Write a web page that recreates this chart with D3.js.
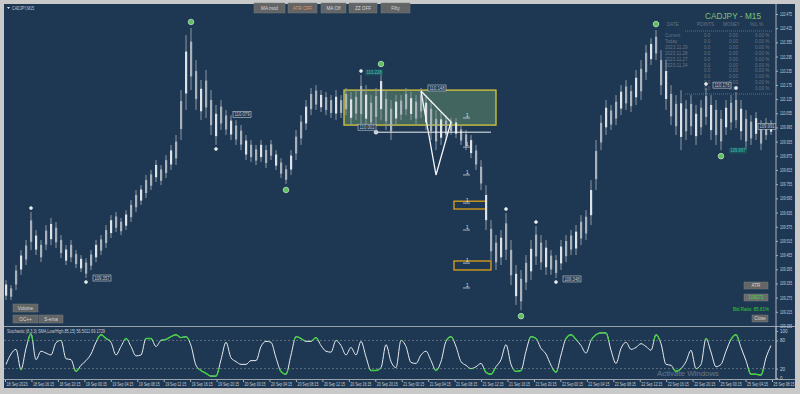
<!DOCTYPE html>
<html>
<head>
<meta charset="utf-8">
<script src="https://cdn.jsdelivr.net/npm/d3@7"></script>
<style>
html, body { margin: 0; padding: 0; background: #c9c9c9; }
svg { display: block; font-family: "Liberation Sans", Arial, sans-serif; }
</style>
</head>
<body>
<svg id="chart" width="800" height="394"></svg>
<script>
// bar highs / lows (CADJPY M15, one bar every ~3 real bars)
var highs = [
    109.349,109.328,109.413,109.476,109.519,109.637,109.561,109.519,109.582,109.612,
    109.595,109.540,109.497,109.519,109.476,109.455,109.442,109.476,109.519,109.540,
    109.582,109.624,109.637,109.612,109.645,109.688,109.730,109.751,109.794,109.815,
    109.857,109.836,109.878,109.921,109.963,110.153,110.386,110.416,110.280,110.196,
    110.238,110.153,110.090,110.111,110.069,110.047,110.026,110.005,109.963,109.942,
    109.921,109.942,109.921,109.942,109.899,109.865,109.836,109.899,109.984,110.047,
    110.111,110.162,110.174,110.153,110.145,110.132,110.153,110.132,110.162,110.145,
    110.153,110.217,110.174,110.132,110.162,110.238,110.153,110.111,110.132,110.132,
    110.162,110.145,110.132,110.162,110.132,110.111,110.069,110.060,110.047,110.035,
    110.035,110.005,109.984,109.963,109.921,109.857,109.751,109.603,109.540,109.561,
    109.633,109.519,109.413,109.392,109.455,109.519,109.578,109.540,109.519,109.476,
    109.455,109.519,109.540,109.561,109.582,109.624,109.645,109.772,109.942,110.047,
    110.111,110.090,110.132,110.174,110.196,110.174,110.238,110.280,110.344,110.373,
    110.407,110.322,110.280,110.174,110.132,110.153,110.111,110.132,110.090,110.111,
    110.162,110.132,110.111,110.069,110.111,110.132,110.145,110.111,110.069,110.047,
    110.060,110.026,110.035,110.026
];
var lows = [
    109.265,109.265,109.307,109.371,109.413,109.476,109.455,109.425,109.476,109.497,
    109.485,109.442,109.413,109.425,109.400,109.383,109.358,109.392,109.425,109.455,
    109.485,109.527,109.552,109.540,109.561,109.595,109.637,109.667,109.696,109.730,
    109.764,109.751,109.781,109.815,109.836,109.942,110.069,110.153,110.069,110.026,
    110.035,109.963,109.921,109.984,109.963,109.942,109.921,109.899,109.857,109.849,
    109.836,109.849,109.823,109.857,109.815,109.781,109.756,109.794,109.857,109.921,
    109.984,110.047,110.069,110.060,110.047,110.035,110.026,110.035,110.047,110.005,
    110.026,110.005,109.992,109.984,110.005,110.026,109.984,109.942,110.005,110.026,
    110.047,110.026,110.005,110.035,109.984,109.942,109.899,109.921,109.942,109.963,
    109.950,109.921,109.899,109.865,109.815,109.730,109.561,109.434,109.392,109.413,
    109.434,109.328,109.244,109.222,109.307,109.349,109.413,109.392,109.371,109.371,
    109.358,109.392,109.425,109.455,109.455,109.497,109.519,109.582,109.730,109.899,
    109.963,109.984,110.005,110.047,110.069,110.060,110.090,110.111,110.196,110.259,
    110.280,110.132,110.069,110.005,109.963,109.899,109.942,109.963,109.921,109.963,
    110.005,109.942,109.921,109.899,109.963,109.984,109.992,109.942,109.899,109.921,
    109.942,109.899,109.942,109.963
];
// stochastic main line, same bars
var stoch = [
    29,51,61,18,63,94,39,57,53,49, 75,80,41,39,14,27,37,51,76,92,
    84,76,49,67,84,67,47,49,84,84, 67,80,82,88,92,86,88,69,27,16,
    10,4,4,39,76,43,35,29,29,37, 37,67,78,76,43,14,8,49,88,84,
    78,78,86,69,57,55,80,69,49,65, 49,78,45,16,16,22,71,35,22,80,
    67,33,31,49,57,37,16,35,78,88, 67,35,27,20,24,31,12,8,24,39,
    71,29,14,16,57,88,84,63,51,27, 12,49,84,92,82,69,53,80,92,96,
    96,59,31,63,76,61,65,73,67,59, 92,73,29,27,14,20,35,59,20,29,
    84,55,24,29,57,82,92,65,37,8, 8,6,43,69
];

var priceTicks = [110.475,110.415,110.355,110.295,110.235,110.175,110.115,110.055,109.995,109.935,
    109.875,109.815,109.755,109.695,109.635,109.575,109.515,109.455,109.395,109.335,109.275,109.215,109.155];
var stochTicks = [100, 80, 20, 0];
var timeLabels = ["18 Sep 2023","18 Sep 16:15","18 Sep 20:15","19 Sep 00:15","19 Sep 04:15","19 Sep 08:15",
    "19 Sep 12:15","19 Sep 16:15","19 Sep 20:15","20 Sep 00:15","20 Sep 04:15","20 Sep 08:15","20 Sep 12:15",
    "20 Sep 16:15","20 Sep 20:15","21 Sep 00:15","21 Sep 04:15","21 Sep 08:15","21 Sep 12:15","21 Sep 16:15",
    "21 Sep 20:15","22 Sep 00:15","22 Sep 04:15","22 Sep 08:15","22 Sep 12:15","22 Sep 16:15","22 Sep 20:15",
    "25 Sep 00:15","25 Sep 04:15","25 Sep 08:15"];

// zigzag swing points (bar index)
var greenHighs = [37, 75, 130];
var greenLows = [56, 103, 143];
var whiteHighs = [5, 71, 100, 106, 140, 146];
var whiteLows = [16, 42, 110];

// price tags: bar index, price, text
var tagIdx = [17, 45, 70, 84, 111, 141, 150];
var tagPrice = [109.358, 110.050, 109.996, 110.162, 109.354, 110.174, 110.000];
var tagText = ["109.357", "110.079", "110.002", "110.148", "109.348", "110.176", "109.991"];

// zones: [from bar, to bar, top price, bottom price]
var zoneFrom = [68, 90, 90];
var zoneTo = [98, 96, 97];
var zoneTop = [110.153, 109.683, 109.430];
var zoneBottom = [110.005, 109.650, 109.392];

var triIdx = [83, 86, 89];
var triPrice = [110.149, 109.794, 110.018];
var levelPrice = [110.035, 109.912, 109.794, 109.675, 109.561, 109.421, 109.316];

var buttonsTop = ["MA mod", "ATR OFF", "MA Off", "ZZ OFF", "Fifty"];
var tableHead = ["DATE", "POINTS", "MONEY", "%/L %"];
var tableRows = ["Current", "Today", "2023.11.29", "2023.11.28", "2023.11.27", "2023.11.24", "...", "...", "...", "..."];

var bg = "#1e3752";
var svg = d3.select("#chart");

svg.append("rect").attr("x", 4).attr("y", 4).attr("width", 791).attr("height", 384).attr("fill", bg);

var x = d3.scaleLinear().domain([0, highs.length - 1]).range([6, 771]);
var y = d3.scaleLinear().domain([109.155, 110.475]).range([326, 14]);
var ys = d3.scaleLinear().domain([0, 100]).range([378, 331]);
var xt = d3.scalePoint().domain(timeLabels).range([5, 772]);

function tiny(sel, len) {
    sel.attr("font-size", 4.6).attr("fill", "#c9cdd2");
    if (len) sel.attr("textLength", len).attr("lengthAdjust", "spacingAndGlyphs");
    return sel;
}

var defs = svg.append("defs");
defs.append("clipPath").attr("id", "pane").append("rect")
    .attr("x", 4).attr("y", 4).attr("width", 772).attr("height", 322);
var main = svg.append("g").attr("clip-path", "url(#pane)");

// ---------- info table (behind bars) ----------
var tbl = main.append("g").attr("opacity", 0.75);
tbl.selectAll("text.h").data(tableHead).enter().append("text")
    .attr("x", function (d, i) { return [667, 697, 723, 750][i]; })
    .attr("y", 26)
    .text(function (d) { return d; })
    .call(tiny).attr("fill", "#7e8a96");
tableRows.forEach(function (r, i) {
    var ry = 37 + i * 5.9;
    var g = tbl.append("g");
    g.append("text").attr("x", 665).attr("y", ry).text(r).call(tiny).attr("fill", "#7e8a96");
    g.append("text").attr("x", 704).attr("y", ry).text("0.0").call(tiny).attr("fill", "#7e8a96");
    g.append("text").attr("x", 729).attr("y", ry).text("0.00").call(tiny).attr("fill", "#7e8a96");
    g.append("text").attr("x", 755).attr("y", ry).text("0.00  %").call(tiny).attr("fill", "#7e8a96");
});
[31, 94].forEach(function (ly) {
    tbl.append("line").attr("x1", 685).attr("x2", 772).attr("y1", ly).attr("y2", ly)
        .attr("stroke", "#8a96a2").attr("stroke-dasharray", "1,1").attr("stroke-width", 0.8);
});
main.append("text").attr("x", 705).attr("y", 19).text("CADJPY - M15")
    .attr("font-size", 8.5).attr("fill", "#7cc47a")
    .attr("textLength", 56).attr("lengthAdjust", "spacingAndGlyphs");

// ---------- zones ----------
main.selectAll("rect.zone").data(zoneFrom).enter().append("rect")
    .attr("x", function (d) { return x(d) - 2; })
    .attr("y", function (d, i) { return y(zoneTop[i]); })
    .attr("width", function (d, i) { return x(zoneTo[i]) - x(d) + 2; })
    .attr("height", function (d, i) { return y(zoneBottom[i]) - y(zoneTop[i]); })
    .attr("fill", function (d, i) { return i === 0 ? "rgba(110,160,110,0.45)" : "none"; })
    .attr("stroke", function (d, i) { return i === 0 ? "#d8c83a" : "#e0a21a"; })
    .attr("stroke-width", 1.3);

// ---------- bars ----------
var bars = main.append("g");
bars.selectAll("line").data(highs).enter().append("line")
    .attr("x1", function (d, i) { return x(i); })
    .attr("x2", function (d, i) { return x(i); })
    .attr("y1", function (d) { return y(d); })
    .attr("y2", function (d, i) { return y(lows[i]); })
    .attr("stroke", "#8e99a4").attr("stroke-width", 1);
bars.selectAll("rect").data(highs).enter().append("rect")
    .attr("x", function (d, i) { return x(i) - 1; })
    .attr("width", 2.2)
    .attr("y", function (d, i) { return y(d) + (y(lows[i]) - y(d)) * 0.22; })
    .attr("height", function (d, i) { return (y(lows[i]) - y(d)) * 0.56; })
    .attr("fill", function (d, i) { return i % 3 === 0 ? "#dde2e6" : "#a9b2bb"; });

// ---------- zigzag triangle & lines ----------
var tri = triIdx.map(function (d, i) { return [x(d), y(triPrice[i])]; });
main.append("path").attr("d", d3.line()(tri.concat([tri[0]])))
    .attr("fill", "none").attr("stroke", "#f4f6f8").attr("stroke-width", 1.3);
main.append("line").attr("x1", x(74)).attr("x2", x(97)).attr("y1", y(109.975)).attr("y2", y(109.975))
    .attr("stroke", "#f0f2f4").attr("stroke-width", 1);
main.append("circle").attr("cx", x(74)).attr("cy", y(109.975)).attr("r", 2)
    .attr("fill", "#c6ccd2").attr("stroke", "#fff").attr("stroke-width", 0.5);

main.selectAll("g.lvl").data(levelPrice).enter().append("g").each(function (d) {
    var g = d3.select(this);
    g.append("text").attr("x", x(92)).attr("y", y(d) - 1).text("1").call(tiny).attr("fill", "#e8ecf0");
    g.append("line").attr("x1", x(91.4)).attr("x2", x(92.8)).attr("y1", y(d)).attr("y2", y(d))
        .attr("stroke", "#e8ecf0").attr("stroke-width", 0.7);
});

// ---------- swing markers ----------
function dot(cx, cy, r, fill) {
    main.append("circle").attr("cx", cx).attr("cy", cy).attr("r", r)
        .attr("fill", fill).attr("stroke", "#e6f2e6").attr("stroke-width", 0.6);
}
whiteHighs.forEach(function (i) { dot(x(i), y(highs[i]) - 4, 1.5, "#e6eaee"); });
whiteLows.forEach(function (i) { dot(x(i), y(lows[i]) + 4, 1.5, "#e6eaee"); });
greenHighs.forEach(function (i) { dot(x(i), y(highs[i]) - 6, 2.8, "#5cc15c"); });
greenLows.forEach(function (i) { dot(x(i), y(lows[i]) + 6, 2.8, "#5cc15c"); });

// ---------- price tags ----------
tagIdx.forEach(function (d, i) {
    var tx = x(d) + 2, ty = y(tagPrice[i]);
    main.append("rect").attr("x", tx).attr("y", ty - 3).attr("width", 18).attr("height", 6)
        .attr("fill", bg).attr("stroke", "#c9d0d6").attr("stroke-width", 0.6);
    main.append("text").attr("x", tx + 1.5).attr("y", ty + 1.7).text(tagText[i]).call(tiny, 15);
});
// teal tags
[[x(75) - 16, y(110.228), "110.228"], [x(144) + 3, y(109.897), "109.897"]].forEach(function (t) {
    main.append("rect").attr("x", t[0]).attr("y", t[1] - 3).attr("width", 18).attr("height", 6)
        .attr("fill", "#1f5a5a").attr("opacity", 0.7);
    main.append("text").attr("x", t[0] + 1.5).attr("y", t[1] + 1.7).text(t[2]).call(tiny, 15).attr("fill", "#38c7c2");
});

// ---------- stochastic pane ----------
svg.append("line").attr("x1", 4).attr("x2", 795).attr("y1", 326.5).attr("y2", 326.5).attr("stroke", "#9aa1a8").attr("stroke-width", 1.2);
svg.append("line").attr("x1", 4).attr("x2", 795).attr("y1", 379.5).attr("y2", 379.5).attr("stroke", "#9aa1a8").attr("stroke-width", 1);
[80, 20].forEach(function (v) {
    svg.append("line").attr("x1", 4).attr("x2", 776).attr("y1", ys(v)).attr("y2", ys(v))
        .attr("stroke", "#8d97a1").attr("stroke-dasharray", "2,2").attr("stroke-width", 0.6);
});
var sLine = d3.line().x(function (d, i) { return x(i); }).y(function (d) { return ys(d); }).curve(d3.curveMonotoneX);
var cp = defs.append("clipPath").attr("id", "ext");
cp.append("rect").attr("x", 0).attr("y", 320).attr("width", 800).attr("height", ys(80) - 320);
cp.append("rect").attr("x", 0).attr("y", ys(20)).attr("width", 800).attr("height", 390 - ys(20));
svg.append("path").datum(stoch).attr("d", sLine).attr("fill", "none").attr("stroke", "#e9eef2").attr("stroke-width", 1);
svg.append("path").datum(stoch).attr("d", sLine).attr("fill", "none").attr("stroke", "#3fcf3f")
    .attr("stroke-width", 1.4).attr("clip-path", "url(#ext)");
svg.append("text").attr("x", 7).attr("y", 333).text("Stochastic (8,3,3) SMA,Low/High,85,15) 56.5011 69.1729")
    .call(tiny, 98);

// ---------- axes ----------
var pAxis = svg.append("g").attr("transform", "translate(776,0)")
    .call(d3.axisRight(y).tickValues(priceTicks).tickSize(2).tickFormat(d3.format(".3f")));
var sAxis = svg.append("g").attr("transform", "translate(776,0)")
    .call(d3.axisRight(ys).tickValues(stochTicks).tickSize(2));
sAxis.select(".domain").attr("d", "M0,327V379");
var tAxis = svg.append("g").attr("transform", "translate(0,380)")
    .call(d3.axisBottom(xt).tickSize(2));
[pAxis, sAxis, tAxis].forEach(function (a) {
    a.select(".domain").attr("stroke", "#a9b0b7");
    a.selectAll(".tick line").attr("stroke", "#a9b0b7");
    a.selectAll("text").attr("font-family", "Liberation Sans").call(tiny);
});
pAxis.select(".domain").attr("d", "M0,4V379");
pAxis.selectAll("text").attr("x", 4).attr("textLength", 12).attr("lengthAdjust", "spacingAndGlyphs");
sAxis.selectAll("text").attr("x", 4);
tAxis.selectAll("text").attr("text-anchor", "start").attr("x", 1).attr("y", 3)
    .attr("textLength", 21).attr("lengthAdjust", "spacingAndGlyphs");
tAxis.select(".domain").remove();

// ---------- labels & buttons ----------
svg.append("path").attr("d", "M7,7L10,7L8.5,9Z").attr("fill", "#dfe3e7");
svg.append("text").attr("x", 12).attr("y", 9.5).text("CADJPY,M15").call(tiny, 22);

function button(bx, by, w, h, label, col, fill) {
    svg.append("rect").attr("x", bx).attr("y", by).attr("width", w).attr("height", h)
        .attr("fill", fill || "#626466").attr("stroke", "#7a7c7e").attr("stroke-width", 0.5);
    svg.append("text").attr("x", bx + w / 2).attr("y", by + h / 2 + 1.6).attr("text-anchor", "middle")
        .text(label).call(tiny).attr("fill", col || "#d6d8da");
}
var bxs = [254, 288, 321, 349, 381], bws = [31, 29, 25, 28, 29];
buttonsTop.forEach(function (b, i) { button(bxs[i], 3, bws[i], 10, b, i === 1 ? "#e8935a" : null); });
button(13, 304, 25, 8, "Volume");
button(13, 315, 25, 8, "OC++");
button(39, 315, 24, 8, "S-ema");
button(744, 282, 24, 7, "ATR");
button(744, 294, 24, 7, "109271", "#3fdc3f", "#6a6c6e");
svg.append("text").attr("x", 769).attr("y", 311).attr("text-anchor", "end").text("Bid Ratio: 85.81%")
    .call(tiny, 36).attr("fill", "#2fd22f");
button(752, 315, 16, 7, "Close");

svg.append("text").attr("x", 657).attr("y", 376).text("Activate Windows")
    .attr("font-size", 8).attr("fill", "#ffffff").attr("opacity", 0.3)
    .attr("textLength", 62).attr("lengthAdjust", "spacingAndGlyphs");
</script>
</body>
</html>
